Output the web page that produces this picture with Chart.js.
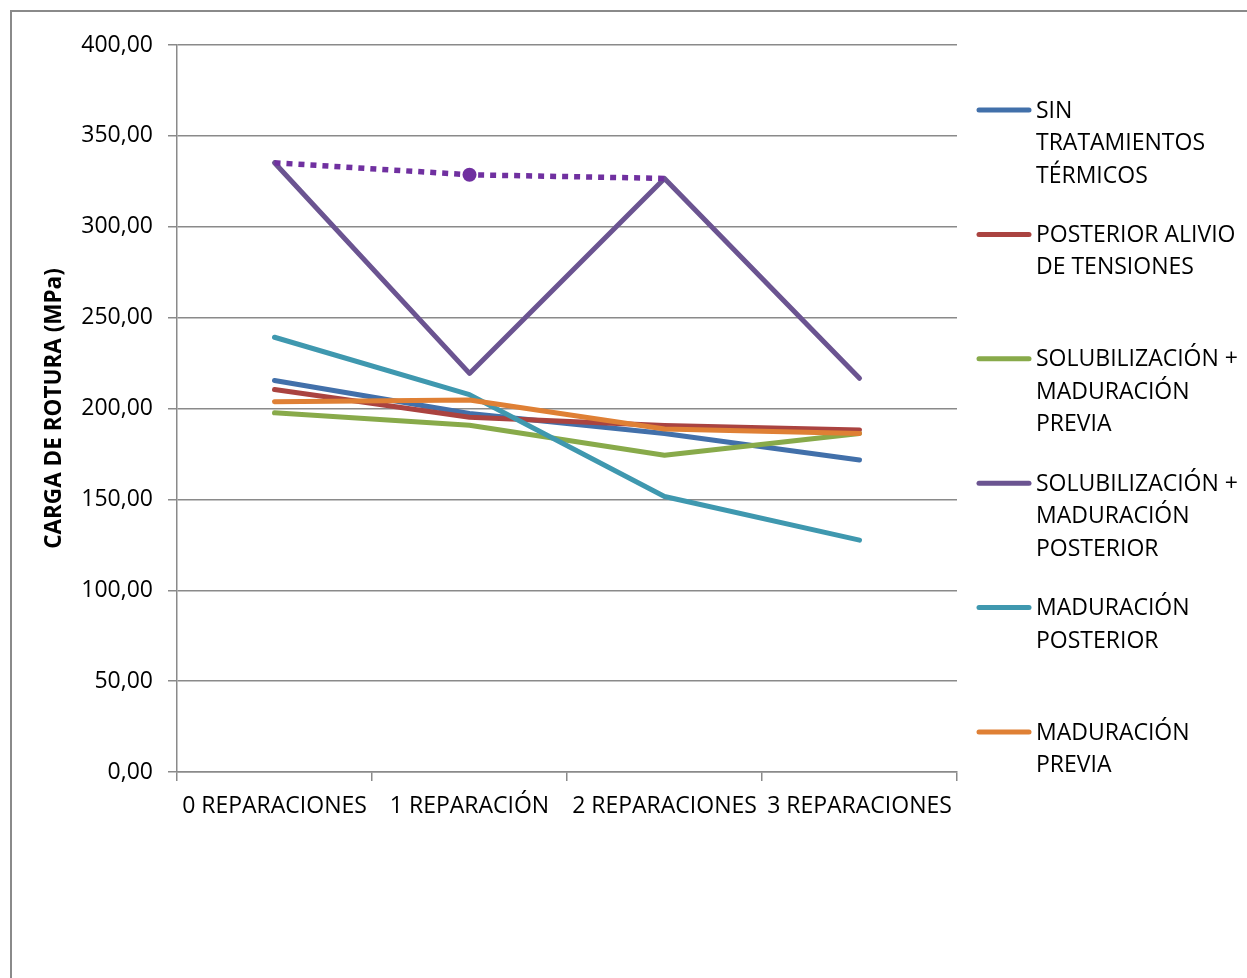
<!DOCTYPE html>
<html>
<head>
<meta charset="utf-8">
<script src="https://cdn.jsdelivr.net/npm/chart.js@4/dist/chart.umd.min.js"></script>
<style>
  html, body { margin: 0; padding: 0; background: #ffffff; }
  #wrap { width: 1247px; height: 978px; }
</style>
</head>
<body>
<div id="wrap"><canvas id="c" width="1247" height="978"></canvas></div>
<script>
// Categories (number of repairs)
const categories = ["0 REPARACIONES", "1 REPARACIÓN", "2 REPARACIONES", "3 REPARACIONES"];

// Breaking load (MPa) per heat-treatment route
const sinTratamientos      = [215.4, 197.2, 186.3, 171.7];
const posteriorAlivio      = [210.4, 195.2, 190.6, 188.2];
const solubMadPrevia       = [197.6, 190.8, 174.3, 186.3];
const solubMadPosterior    = [335.2, 219.3, 326.6, 216.6];
const maduracionPosterior  = [239.2, 207.6, 151.6, 127.6];
const maduracionPrevia     = [203.7, 204.7, 188.7, 186.3];
// Dotted reference trace over the upper purple points
const solubMadPosteriorRef = [335.2, 328.6, 326.6, null];

// Legend text, wrapped as drawn
const legendLines = [
  ["SIN", "TRATAMIENTOS", "TÉRMICOS"],
  ["POSTERIOR ALIVIO", "DE TENSIONES"],
  ["SOLUBILIZACIÓN +", "MADURACIÓN", "PREVIA"],
  ["SOLUBILIZACIÓN +", "MADURACIÓN", "POSTERIOR"],
  ["MADURACIÓN", "POSTERIOR"],
  ["MADURACIÓN", "PREVIA"]
];

// Y-axis tick values
const yTicks = [0, 50, 100, 150, 200, 250, 300, 350, 400];

const seriesData = [sinTratamientos, posteriorAlivio, solubMadPrevia,
                    solubMadPosterior, maduracionPosterior, maduracionPrevia];
const seriesColors = ["#4270AA", "#AA4340", "#88AA4A", "#6B5491", "#3F98AF", "#DF8035"];

const FONT = "'Open Sans', 'DejaVu Sans', sans-serif";
const TEXT_SIZE = 23;

const datasets = seriesData.map((d, i) => ({
  label: legendLines[i].join(" "),
  data: d,
  borderColor: seriesColors[i],
  backgroundColor: seriesColors[i],
  borderWidth: 5,
  borderCapStyle: "round",
  borderJoinStyle: "round",
  pointRadius: 0,
  tension: 0,
  fill: false,
  order: 10 - i,
  legendLines: legendLines[i]
}));

datasets.push({
  label: "SOLUBILIZACIÓN + MADURACIÓN POSTERIOR (ref.)",
  data: solubMadPosteriorRef,
  borderColor: "#7030A0",
  backgroundColor: "#7030A0",
  borderWidth: 5.5,
  borderDash: [6, 6],
  borderCapStyle: "butt",
  pointRadius: [0, 7, 0, 0],
  pointBorderWidth: 0,
  tension: 0,
  fill: false,
  spanGaps: false,
  order: 0,
  inLegend: false
});

// Thin frame around the chart object
const framePlugin = {
  id: "frame",
  beforeDraw(chart) {
    const ctx = chart.ctx;
    ctx.save();
    ctx.fillStyle = "#ffffff";
    ctx.fillRect(0, 0, chart.width, chart.height);
    ctx.strokeStyle = "#8a8a8a";
    ctx.lineWidth = 2;
    ctx.beginPath();
    ctx.moveTo(11, chart.height + 5);
    ctx.lineTo(11, 11);
    ctx.lineTo(chart.width + 5, 11);
    ctx.stroke();
    ctx.restore();
  }
};

// Legend on the right with wrapped entries in equal slots
const sideLegend = {
  id: "sideLegend",
  afterDraw(chart) {
    const ctx = chart.ctx;
    const x0 = 979, x1 = 1029, tx = 1036;
    const firstY = 110, slot = 124.4, lineH = 32.5;
    ctx.save();
    ctx.font = TEXT_SIZE + "px " + FONT;
    ctx.textBaseline = "middle";
    ctx.textAlign = "left";
    let k = 0;
    chart.data.datasets.forEach(ds => {
      if (ds.inLegend === false) return;
      const y = firstY + k * slot;
      ctx.strokeStyle = ds.borderColor;
      ctx.lineWidth = 5;
      ctx.lineCap = "round";
      ctx.beginPath();
      ctx.moveTo(x0, y);
      ctx.lineTo(x1, y);
      ctx.stroke();
      ctx.fillStyle = "#000000";
      ds.legendLines.forEach((t, j) => ctx.fillText(t, tx, y + j * lineH + 1));
      k++;
    });
    ctx.restore();
  }
};

new Chart(document.getElementById("c"), {
  type: "line",
  data: { labels: categories, datasets: datasets },
  plugins: [framePlugin, sideLegend],
  options: {
    responsive: false,
    animation: false,
    devicePixelRatio: 1,
    layout: { padding: { left: 0, right: 290, top: 45, bottom: 0 } },
    plugins: {
      legend: { display: false },
      tooltip: { enabled: false },
      title: { display: false }
    },
    scales: {
      x: {
        type: "category",
        offset: true,
        grid: {
          offset: true,
          drawOnChartArea: false,
          drawTicks: true,
          tickLength: 9,
          color: "#8a8a8a",
          lineWidth: 1.5
        },
        border: { display: true, color: "#8a8a8a", width: 1.5 },
        ticks: {
          color: "#000000",
          font: { family: FONT, size: TEXT_SIZE },
          padding: 12,
          maxRotation: 0,
          autoSkip: false
        },
        afterFit(scale) { scale.height = 978 - 772; }
      },
      y: {
        min: 0,
        max: 400,
        afterBuildTicks(scale) { scale.ticks = yTicks.map(v => ({ value: v })); },
        grid: {
          color: "#8a8a8a",
          lineWidth: 1.5,
          drawTicks: true,
          tickLength: 9
        },
        border: { display: true, color: "#8a8a8a", width: 1.5 },
        ticks: {
          color: "#000000",
          font: { family: FONT, size: TEXT_SIZE },
          padding: 15,
          callback: v => v.toFixed(2).replace(".", ",")
        },
        title: {
          display: true,
          text: "CARGA DE ROTURA (MPa)",
          color: "#000000",
          font: { family: FONT, size: 22.5, weight: "bold" },
          padding: { top: 41, bottom: 0 }
        },
        afterFit(scale) { scale.width = 177; }
      }
    }
  }
});
</script>
</body>
</html>
